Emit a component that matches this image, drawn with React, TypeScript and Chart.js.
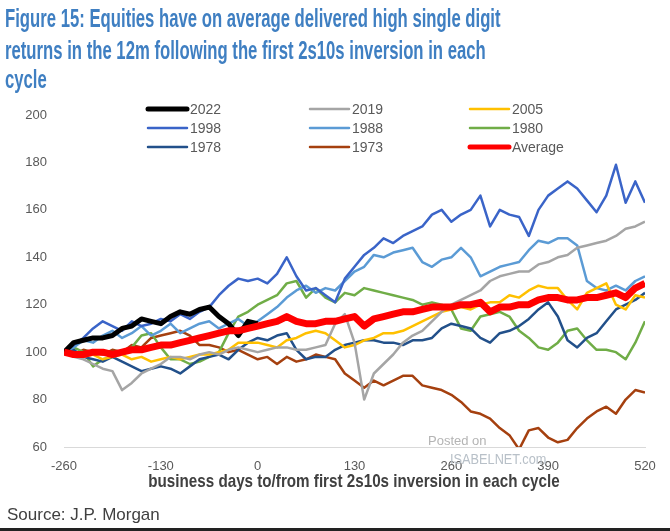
import React, { useEffect, useRef } from "react";
import { Chart, registerables } from "chart.js";

Chart.register(...registerables);

const FONT = "'Liberation Sans', Arial, sans-serif";

// business days to/from first 2s10s inversion (x positions of the samples)
const days = [
  -260, -247, -234, -221, -208, -195, -182, -169, -156, -143, -130, -117, -104, -91, -78, -65, -52, -39, -26, -13,
  0, 13, 26, 39, 52, 65, 78, 91, 104, 117, 130, 143, 156, 169, 182, 195, 208, 221, 234, 247,
  260, 273, 286, 299, 312, 325, 338, 351, 364, 377, 390, 403, 416, 429, 442, 455, 468, 481, 494, 507, 520,
];

const xTicks = [-260, -130, 0, 130, 260, 390, 520];
const yTicks = [60, 80, 100, 120, 140, 160, 180, 200];

const s2022 = [
  100, 104, 105, 106, 106, 107, 110, 111, 114, 113, 112, 115, 117, 116, 118, 119, 115, 112, 107, 113, 112,
];
const s2019 = [
  100, 98, 97, 95, 93, 92, 84, 87, 91, 93, 95, 98, 98, 97, 99, 100, 99, 101, 102, 101,
  100, 101, 102, 102, 101, 101, 102, 103, 112, 116, 104, 80, 91, 95, 99, 104, 107, 109, 113, 117,
  120, 122, 124, 126, 130, 132, 133, 134, 134, 137, 138, 140, 141, 144, 145, 146, 147, 149, 152, 153, 155,
];
const s2005 = [
  100, 99, 98, 99, 97, 98, 99, 97, 98, 96, 97, 98, 97, 98, 99, 99, 100, 101, 104, 104,
  104, 103, 102, 105, 106, 108, 109, 108, 105, 102, 103, 105, 106, 108, 108, 109, 111, 113, 115, 117,
  118, 119, 118, 120, 121, 121, 124, 123, 126, 128, 127, 127, 122, 118, 125, 127, 129, 120, 118, 124, 123,
];
const s1998 = [
  100, 103, 106, 110, 113, 111, 109, 113, 111, 112, 114, 113, 116, 114, 117, 119, 124, 128, 131, 130,
  131, 129, 133, 140, 132, 126, 127, 124, 121, 131, 136, 141, 144, 148, 146, 149, 151, 153, 158, 160,
  155, 158, 160, 166, 153, 160, 158, 157, 149, 160, 166, 169, 172, 169, 164, 159, 166, 179, 163, 172, 163,
];
const s1988 = [
  100, 102, 105, 104, 107, 109, 106, 108, 111, 107, 109, 112, 108, 110, 112, 113, 110, 112, 114, 111,
  113, 116, 119, 123, 126, 128, 125, 127, 126, 130, 134, 136, 141, 140, 142, 143, 144, 138, 136, 139,
  140, 144, 140, 132, 134, 136, 137, 138, 143, 147, 146, 148, 148, 145, 130, 127, 126, 128, 126, 130, 132,
];
const s1980 = [
  100, 102, 100, 94, 97, 98, 100, 102, 107, 108, 102, 97, 97, 95, 96, 98, 100, 108, 115, 117,
  120, 122, 124, 129, 130, 123, 127, 123, 121, 125, 124, 127, 126, 125, 124, 123, 122, 120, 121, 120,
  118, 110, 109, 115, 116, 117, 115, 109, 106, 102, 101, 104, 109, 110, 105, 101, 101, 100, 97, 104, 113,
];
const s1978 = [
  100, 101, 98, 97, 96, 98, 96, 94, 92, 93, 94, 93, 91, 94, 97, 98, 99, 97, 101, 104,
  106, 105, 107, 108, 101, 97, 98, 98, 101, 103, 104, 105, 105, 104, 104, 103, 105, 105, 106, 110,
  112, 111, 110, 106, 104, 108, 109, 111, 114, 118, 121, 115, 105, 102, 106, 108, 113, 118, 120, 122, 125,
];
const s1973 = [
  100, 99, 101, 100, 99, 101, 100, 103, 102, 106, 107, 108, 109, 107, 103, 103, 102, 100, 101, 99,
  97, 98, 95, 98, 96, 97, 99, 98, 97, 91, 88, 85, 88, 86, 88, 90, 90, 86, 85, 84,
  82, 79, 75, 74, 72, 68, 65, 59, 67, 68, 64, 62, 63, 68, 72, 75, 77, 74, 80, 84, 83,
];
const sAverage = [
  100, 99, 99, 100, 100, 99, 100, 101, 101, 102, 103, 103, 104, 105, 106, 107, 108, 109, 109, 110,
  111, 112, 113, 115, 113, 112, 112, 113, 113, 114, 115, 111, 114, 115, 116, 117, 117, 118, 119, 119,
  119, 120, 120, 121, 117, 119, 119, 120, 120, 122, 123, 123, 122, 122, 123, 123, 124, 125, 123, 127, 129,
];

const seriesNames = ["2022", "2019", "2005", "1998", "1988", "1980", "1978", "1973", "Average"];
const seriesValues = [s2022, s2019, s2005, s1998, s1988, s1980, s1978, s1973, sAverage];
const seriesColors = ["#000000", "#a5a5a5", "#ffc000", "#3a64c8", "#5b9bd5", "#70ad47", "#22508a", "#a5400f", "#ff0000"];
const seriesWidths = [5, 2.5, 2.5, 2.5, 2.5, 2.5, 2.5, 2.5, 7];
const seriesOrder = [1, 2, 3, 2, 3, 4, 3, 4, 0];

const legendColX = [148, 310, 470];
const legendRowY = [109, 128, 147];

const legendPlugin = {
  id: "gridLegend",
  afterDraw(chart: any) {
    const ctx = chart.ctx;
    ctx.save();
    chart.data.datasets.forEach((ds: any, i: number) => {
      const x = legendColX[i % 3];
      const y = legendRowY[Math.floor(i / 3)];
      ctx.strokeStyle = ds.borderColor;
      ctx.lineWidth = Math.min(ds.borderWidth, 5);
      ctx.lineCap = "round";
      ctx.beginPath();
      ctx.moveTo(x, y);
      ctx.lineTo(x + 39, y);
      ctx.stroke();
      ctx.fillStyle = "#595959";
      ctx.font = `14px ${FONT}`;
      ctx.textBaseline = "middle";
      ctx.textAlign = "left";
      ctx.fillText(ds.label, x + 42, y + 1);
    });
    ctx.restore();
  },
};

export default function App() {
  const ref = useRef<HTMLCanvasElement | null>(null);

  useEffect(() => {
    if (!ref.current) return;
    const chart = new Chart(ref.current, {
      type: "line",
      data: {
        datasets: seriesNames.map((name, i) => ({
          label: name,
          data: seriesValues[i].map((v, j) => ({ x: days[j], y: v })),
          borderColor: seriesColors[i],
          backgroundColor: seriesColors[i],
          borderWidth: seriesWidths[i],
          pointRadius: 0,
          tension: 0,
          fill: false,
          order: seriesOrder[i],
          borderJoinStyle: "round" as const,
        })),
      },
      options: {
        animation: false,
        responsive: false,
        maintainAspectRatio: false,
        layout: { padding: { left: 0, right: 25, top: 115, bottom: 54 } },
        plugins: { legend: { display: false }, tooltip: { enabled: false }, title: { display: false } },
        scales: {
          x: {
            type: "linear",
            min: xTicks[0],
            max: xTicks[xTicks.length - 1],
            afterBuildTicks: (s: any) => {
              s.ticks = xTicks.map((v) => ({ value: v }));
            },
            ticks: { padding: 12, color: "#595959", font: { size: 13, family: FONT }, maxRotation: 0, autoSkip: false },
            grid: { display: false, drawTicks: false },
            border: { display: true, color: "#d9d9d9", width: 1 },
            afterFit: (s: any) => {
              s.height = 30;
            },
          },
          y: {
            min: yTicks[0],
            max: yTicks[yTicks.length - 1],
            afterBuildTicks: (s: any) => {
              s.ticks = yTicks.map((v) => ({ value: v }));
            },
            ticks: { padding: 17, color: "#595959", font: { size: 13, family: FONT } },
            grid: { display: false, drawTicks: false },
            border: { display: false },
            afterFit: (s: any) => {
              s.width = 64;
            },
          },
        },
      },
      plugins: [legendPlugin],
    });
    return () => chart.destroy();
  }, []);

  const titleStyle: React.CSSProperties = {
    position: "absolute",
    left: 5,
    fontFamily: FONT,
    fontWeight: 700,
    fontSize: 25,
    lineHeight: "30px",
    color: "#3f7fc2",
    whiteSpace: "nowrap",
    transform: "scaleX(0.668)",
    transformOrigin: "left top",
  };

  return (
    <div style={{ position: "absolute", left: 0, top: 0, width: 670, height: 531, background: "#fff", overflow: "hidden" }}>
      <canvas ref={ref} width={670} height={531} style={{ position: "absolute", left: 0, top: 0, width: 670, height: 531 }} />
      <div style={{ ...titleStyle, top: 3 }}>Figure 15: Equities have on average delivered high single digit</div>
      <div style={{ ...titleStyle, top: 35 }}>returns in the 12m following the first 2s10s inversion in each</div>
      <div style={{ ...titleStyle, top: 64 }}>cycle</div>
      <div
        style={{
          position: "absolute",
          left: 354,
          top: 470,
          fontFamily: FONT,
          fontWeight: 700,
          fontSize: 19,
          lineHeight: "22px",
          color: "#404040",
          whiteSpace: "nowrap",
          transform: "translateX(-50%) scaleX(0.8)",
          transformOrigin: "center top",
        }}
      >
        business days to/from first 2s10s inversion in each cycle
      </div>
      <div
        style={{
          position: "absolute",
          left: 428,
          top: 433,
          fontFamily: FONT,
          fontSize: 13,
          lineHeight: "15px",
          color: "#b4b4b4",
          whiteSpace: "nowrap",
        }}
      >
        Posted on
      </div>
      <div
        style={{
          position: "absolute",
          left: 450,
          top: 450,
          fontFamily: FONT,
          fontSize: 15,
          lineHeight: "17px",
          color: "#b8c0c8",
          whiteSpace: "nowrap",
          transform: "scaleX(0.85)",
          transformOrigin: "left top",
        }}
      >
        ISABELNET.com
      </div>
      <div
        style={{
          position: "absolute",
          left: 7,
          top: 505,
          fontFamily: FONT,
          fontSize: 17,
          lineHeight: "20px",
          color: "#404040",
          whiteSpace: "nowrap",
        }}
      >
        Source: J.P. Morgan
      </div>
      <div style={{ position: "absolute", left: 0, top: 528, width: 670, height: 3, background: "#222" }} />
    </div>
  );
}
